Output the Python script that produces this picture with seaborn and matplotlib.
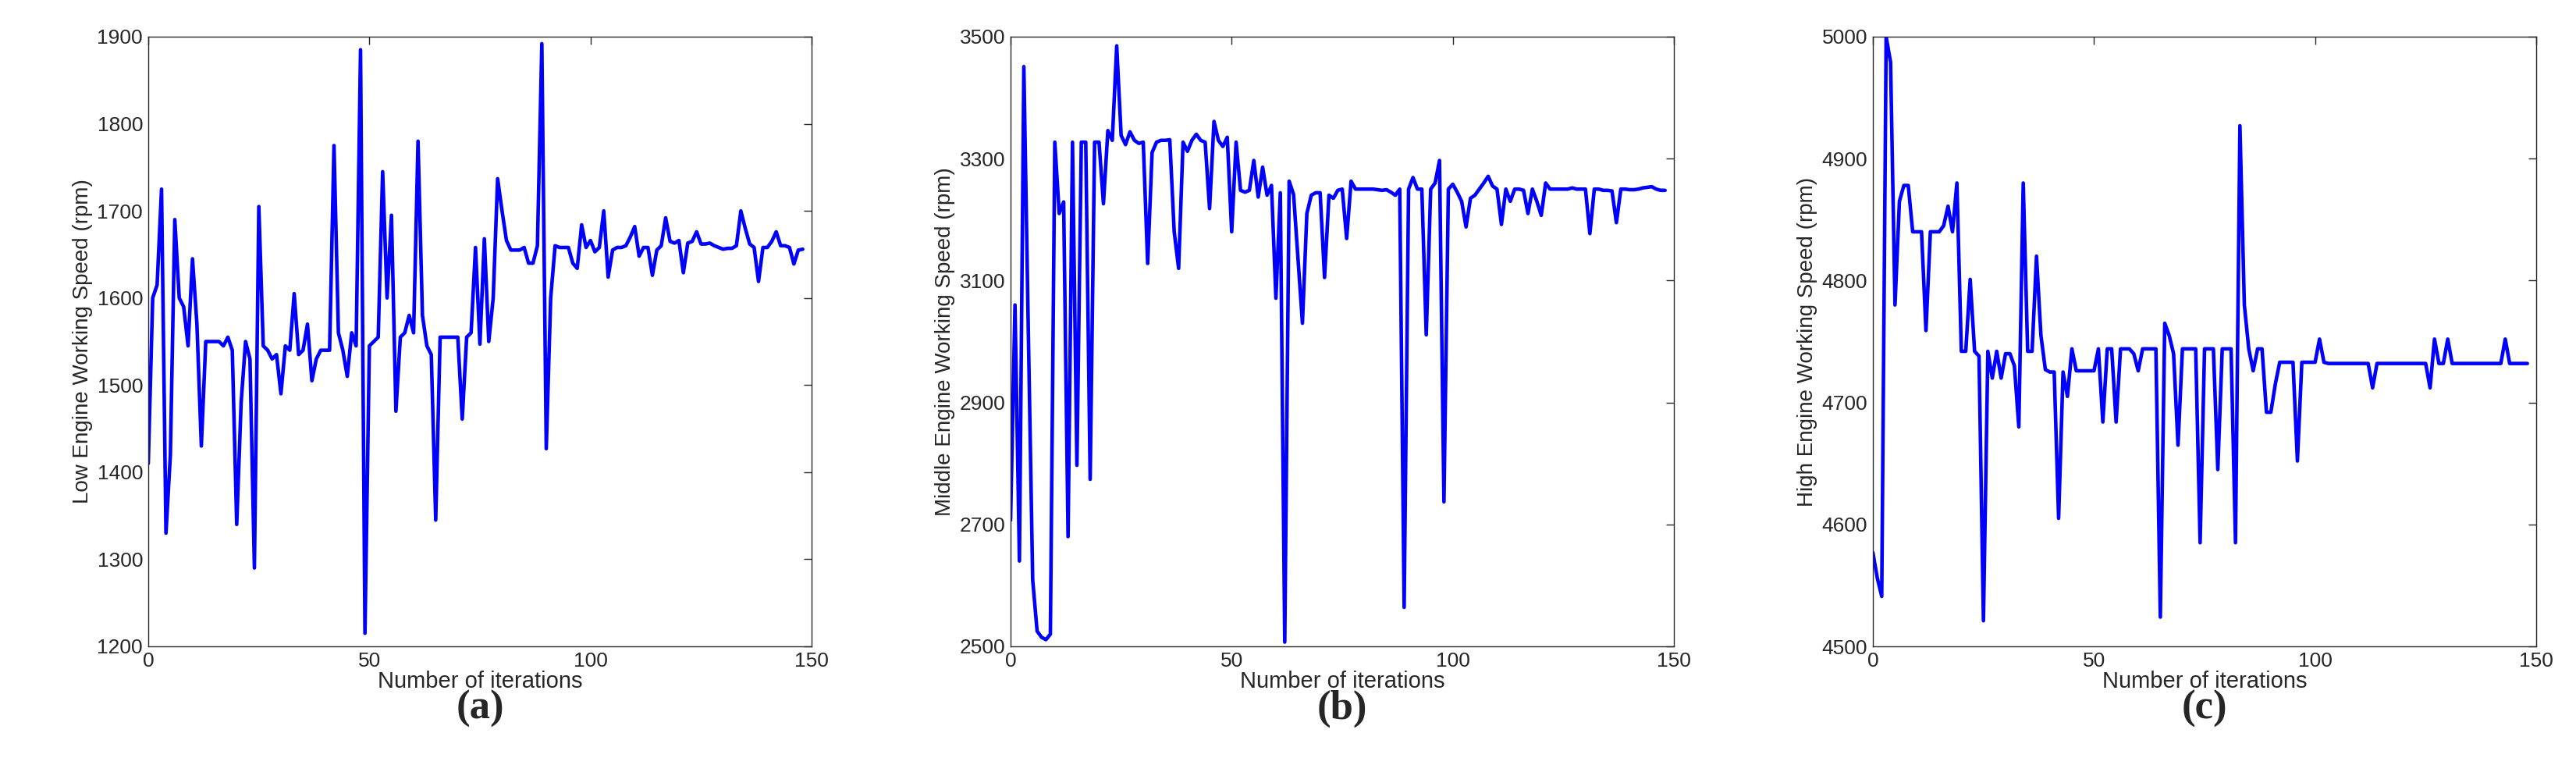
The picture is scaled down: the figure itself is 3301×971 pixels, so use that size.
import numpy as np
import pandas as pd
import seaborn as sns
import matplotlib.pyplot as plt

low_speed = [
    1410, 1600, 1615, 1725, 1330, 1420, 1690, 1600, 1590, 1545,
    1645, 1570, 1430, 1550, 1550, 1550, 1550, 1545, 1555, 1540,
    1340, 1480, 1550, 1530, 1290, 1705, 1545, 1540, 1530, 1535,
    1490, 1545, 1540, 1605, 1535, 1540, 1570, 1505, 1530, 1540,
    1540, 1540, 1775, 1560, 1540, 1510, 1560, 1545, 1885, 1215,
    1545, 1550, 1555, 1745, 1600, 1695, 1470, 1555, 1560, 1580,
    1560, 1780, 1580, 1545, 1535, 1345, 1555, 1555, 1555, 1555,
    1555, 1461, 1555, 1560, 1658, 1547, 1668, 1550, 1600, 1737,
    1700, 1666, 1655, 1655, 1655, 1658, 1640, 1640, 1660, 1892,
    1427, 1600, 1660, 1658, 1658, 1658, 1640, 1634, 1684, 1658,
    1666, 1653, 1658, 1700, 1624, 1655, 1658, 1658, 1660, 1670,
    1682, 1648, 1658, 1658, 1626, 1655, 1660, 1692, 1665, 1663,
    1666, 1629, 1663, 1665, 1676, 1662, 1662, 1663, 1660, 1658,
    1656, 1657, 1657, 1660, 1700, 1680, 1662, 1658, 1619, 1658,
    1658, 1665, 1676, 1660, 1660, 1658, 1639, 1655, 1656,
]

middle_speed = [
    2707, 3060, 2640, 3451, 3022, 2609, 2525, 2515, 2511, 2520,
    3327, 3210, 3229, 2680, 3327, 2797, 3327, 3327, 2774, 3327,
    3327, 3226, 3346, 3330, 3485, 3338, 3323, 3344, 3330, 3325,
    3327, 3128, 3310, 3327, 3330, 3330, 3331, 3180, 3120, 3327,
    3312, 3330, 3340, 3330, 3327, 3218, 3361, 3330, 3320, 3335,
    3180, 3327, 3248, 3245, 3248, 3297, 3237, 3286, 3240, 3256,
    3071, 3244, 2507, 3263, 3241, 3135, 3030, 3210, 3240, 3244,
    3244, 3105, 3240, 3235, 3248, 3250, 3169, 3263, 3250, 3250,
    3250, 3250, 3250, 3249, 3248, 3249, 3245, 3240, 3250, 2564,
    3250, 3269, 3250, 3250, 3011, 3250, 3260, 3297, 2737, 3250,
    3258, 3245, 3230, 3188, 3235, 3240, 3250, 3260, 3271, 3255,
    3250, 3192, 3250, 3230, 3250, 3250, 3248, 3210, 3250, 3230,
    3207, 3260, 3250, 3250, 3250, 3250, 3250, 3252, 3250, 3250,
    3250, 3177, 3250, 3250, 3248, 3248, 3247, 3195, 3250, 3250,
    3249, 3249, 3250, 3252, 3253, 3254, 3250, 3248, 3248,
]

high_speed = [
    4577, 4556, 4541, 5000, 4979, 4780, 4865, 4878, 4878, 4840,
    4840, 4840, 4759, 4840, 4840, 4840, 4845, 4861, 4840, 4880,
    4742, 4742, 4801, 4742, 4738, 4521, 4742, 4720, 4742, 4720,
    4740, 4740, 4730, 4680, 4880, 4742, 4742, 4820, 4755, 4727,
    4725, 4725, 4605, 4725, 4705, 4744, 4726, 4726, 4726, 4726,
    4726, 4744, 4684, 4744, 4744, 4684, 4744, 4744, 4744, 4740,
    4726, 4744, 4744, 4744, 4744, 4524, 4765, 4755, 4740, 4665,
    4744, 4744, 4744, 4744, 4585, 4744, 4744, 4744, 4645, 4744,
    4744, 4744, 4585, 4927, 4780, 4744, 4726, 4744, 4744, 4692,
    4692, 4715, 4733, 4733, 4733, 4733, 4652, 4733, 4733, 4733,
    4733, 4752, 4733, 4732, 4732, 4732, 4732, 4732, 4732, 4732,
    4732, 4732, 4732, 4712, 4732, 4732, 4732, 4732, 4732, 4732,
    4732, 4732, 4732, 4732, 4732, 4732, 4712, 4752, 4732, 4732,
    4752, 4732, 4732, 4732, 4732, 4732, 4732, 4732, 4732, 4732,
    4732, 4732, 4732, 4752, 4732, 4732, 4732, 4732, 4732,
]

panels = [
    ("Low Engine Working Speed (rpm)", low_speed, (1200, 1900), np.arange(1200, 1901, 100), "(a)"),
    ("Middle Engine Working Speed (rpm)", middle_speed, (2500, 3500), np.arange(2500, 3501, 200), "(b)"),
    ("High Engine Working Speed (rpm)", high_speed, (4500, 5000), np.arange(4500, 5001, 100), "(c)"),
]
lefts = [190, 1295, 2400]

sns.set_style("white")
plt.rcParams["font.family"] = ["Liberation Sans", "DejaVu Sans"]

W, H = 3301, 971
fig = plt.figure(figsize=(W / 100, H / 100), dpi=100)

for (ylabel, values, ylim, yticks, tag), left in zip(panels, lefts):
    ax = fig.add_axes([left / W, 1 - 828 / H, 850 / W, (828 - 47) / H])
    df = pd.DataFrame({"iteration": np.arange(len(values)), "speed": values})
    sns.lineplot(data=df, x="iteration", y="speed", ax=ax, color="#0000ff", linewidth=3.3)
    ax.set_xlim(0, 150)
    ax.set_ylim(*ylim)
    ax.set_xticks([0, 50, 100, 150])
    ax.set_yticks(yticks)
    ax.tick_params(direction="in", length=7, width=1, top=True, right=True,
                   labelsize=19, colors="#262626", pad=5)
    for s in ax.spines.values():
        s.set_linewidth(1)
        s.set_color("#262626")
    ax.set_xlabel("Number of iterations", fontsize=21, color="#262626", labelpad=0)
    ax.set_ylabel(ylabel, fontsize=20, color="#262626", labelpad=4)
    fig.text((left + 425) / W, 1 - 908 / H, tag, ha="center", va="center",
             fontsize=38, fontweight="bold", family="Liberation Serif")

fig.savefig("out.png", dpi=100)
